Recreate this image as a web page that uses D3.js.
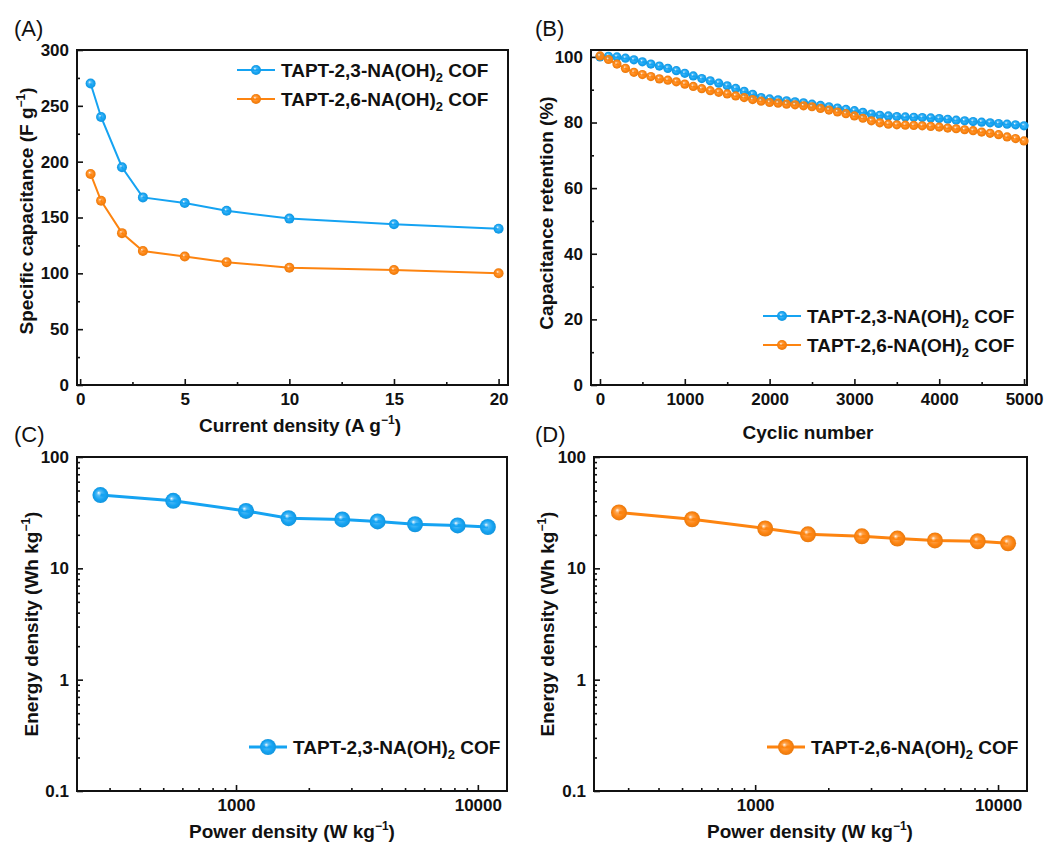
<!DOCTYPE html>
<html>
<head>
<meta charset="utf-8">
<script src="https://cdn.jsdelivr.net/npm/d3@7"></script>
<style>
  body { margin: 0; background: #ffffff; }
  svg text { font-family: "Liberation Sans", Arial, sans-serif; }
</style>
</head>
<body>
<main></main>
<script>
let svgWidth  = 1045;
let svgHeight = 842;

const blue   = '#15a3f2';
const orange = '#fd8410';

const seriesNames = ['TAPT-2,3-NA(OH)', 'TAPT-2,6-NA(OH)'];

// (A) rate performance
const currentDensity = [0.5, 1, 2, 3, 5, 7, 10, 15, 20];
const capA23 = [270, 240, 195, 168, 163, 156, 149, 144, 140];
const capA26 = [189, 165, 136, 120, 115, 110, 105, 103, 100];

// (B) cycling, one point every 100 cycles
const cycles = d3.range(0, 5001, 100);
const ret23 = [100, 100.2, 100, 99.6, 99.1, 98.5, 97.8, 97.2, 96.5, 95.8,
               95, 94.2, 93.4, 92.7, 92, 91.2, 90.4, 89.5, 88.6, 87.6,
               87.2, 86.9, 86.6, 86.3, 86, 85.6, 85.2, 84.8, 84.4, 84,
               83.6, 83.1, 82.6, 82.2, 82, 81.8, 81.7, 81.6, 81.5, 81.4,
               81.2, 81, 80.7, 80.5, 80.3, 80.1, 79.9, 79.7, 79.5, 79.3, 79];
const ret26 = [100.3, 99.2, 97.8, 96.5, 95.3, 94.6, 94, 93.3, 92.9, 92.4,
               91.7, 91, 90.3, 89.7, 89.2, 88.7, 88.1, 87.6, 87, 86.5,
               86.1, 85.9, 85.6, 85.4, 85.1, 84.8, 84.3, 83.8, 83.2, 82.7,
               82, 81.3, 80.5, 79.9, 79.5, 79.3, 79.2, 79.1, 79, 78.8,
               78.6, 78.3, 78.1, 77.8, 77.5, 77.1, 76.7, 76.3, 75.6, 75.1, 74.4];

// (C), (D) Ragone plots
const powerDensity = [275, 550, 1100, 1650, 2750, 3850, 5500, 8250, 11000];
const energy23 = [45.5, 40.4, 32.8, 28.2, 27.5, 26.4, 24.9, 24.3, 23.5];
const energy26 = [31.8, 27.6, 22.8, 20.2, 19.4, 18.5, 17.8, 17.5, 16.8];

const ticksA_x = [0, 5, 10, 15, 20];
const ticksA_y = [0, 50, 100, 150, 200, 250, 300];
const ticksB_x = [0, 1000, 2000, 3000, 4000, 5000];
const ticksB_y = [0, 20, 40, 60, 80, 100];
const ticksLog_x = [1000, 10000];
const ticksLog_y = [0.1, 1, 10, 100];

const titleSize = '19px';

var svg;

function makeGradient(defs, id, color) {
  var g = defs.append('radialGradient')
    .attr('id', id)
    .attr('cx', '50%').attr('cy', '50%').attr('r', '50%')
    .attr('fx', '38%').attr('fy', '35%');
  g.append('stop').attr('offset', '0%').attr('stop-color', '#ffffff');
  g.append('stop').attr('offset', '30%').attr('stop-color', color).attr('stop-opacity', 0.75);
  g.append('stop').attr('offset', '70%').attr('stop-color', color);
  g.append('stop').attr('offset', '100%').attr('stop-color', d3.color(color).darker(0.25));
};

function minorLog(scale) {
  var out = [];
  var d = scale.domain();
  for (let p = -3; p <= 6; ++p) {
    for (let k = 2; k <= 9; ++k) {
      var v = k * Math.pow(10, p);
      if (v > d[0] && v < d[1]) out.push(v);
    }
  }
  return out;
};

function drawAxes(g, x, y, opt) {
  var r = x.range(), b = y.range();

  var xa = d3.axisBottom(x).tickValues(opt.xTicks).tickSize(-6).tickPadding(8).tickFormat(opt.xFmt || d3.format('d'));
  var ya = d3.axisLeft(y).tickValues(opt.yTicks).tickSize(-6).tickPadding(8).tickFormat(opt.yFmt || d3.format('d'));
  var xm = d3.axisBottom(x).tickValues(opt.xMinor).tickSize(-3).tickFormat('');
  var ym = d3.axisLeft(y).tickValues(opt.yMinor).tickSize(-3).tickFormat('');

  [[xa, 'x'], [xm, 'x'], [ya, 'y'], [ym, 'y']].forEach(function(a) {
    var ax = g.append('g')
      .attr('transform', a[1] == 'x' ? 'translate(0,' + b[0] + ')' : 'translate(' + r[0] + ',0)')
      .call(a[0]);
    ax.select('.domain').remove();
    ax.selectAll('line').attr('stroke', '#111').attr('stroke-width', 1.6);
    ax.selectAll('text')
      .attr('font-size', '17px')
      .attr('font-weight', 'bold')
      .attr('fill', '#111');
  });

  g.append('rect')
    .attr('x', r[0]).attr('y', b[1])
    .attr('width', r[1] - r[0]).attr('height', b[0] - b[1])
    .attr('fill', 'none')
    .attr('stroke', '#111')
    .attr('stroke-width', 2);
};

function seriesText(sel, name, suffix) {
  sel.append('tspan').text(name);
  sel.append('tspan').attr('font-size', '13px').attr('dy', 5).text('2');
  sel.append('tspan').attr('dy', -5).text(' ' + suffix);
};

function titleWithUnit(sel, before, after) {
  sel.append('tspan').text(before);
  sel.append('tspan').attr('font-size', '12px').attr('dy', -8).text('\u22121');
  sel.append('tspan').attr('dy', 8).text(after);
};

function drawSeries(g, x, y, xs, ys, color, grad, r, lw) {
  var pts = xs.map(function(v, i) { return [v, ys[i]]; });
  g.append('path')
    .datum(pts)
    .attr('d', d3.line().x(function(d) { return x(d[0]); }).y(function(d) { return y(d[1]); }))
    .attr('fill', 'none')
    .attr('stroke', color)
    .attr('stroke-width', lw);
  g.selectAll(null)
    .data(pts)
    .enter()
      .append('circle')
      .attr('cx', function(d) { return x(d[0]); })
      .attr('cy', function(d) { return y(d[1]); })
      .attr('r', r)
      .attr('fill', 'url(#' + grad + ')');
};

function legendRow(g, lx, ly, color, grad, r, lw, label) {
  g.append('line')
    .attr('x1', lx).attr('x2', lx + 38)
    .attr('y1', ly).attr('y2', ly)
    .attr('stroke', color).attr('stroke-width', lw);
  g.append('circle')
    .attr('cx', lx + 19).attr('cy', ly).attr('r', r)
    .attr('fill', 'url(#' + grad + ')');
  g.append('text')
    .attr('x', lx + 44).attr('y', ly + 7)
    .attr('font-size', titleSize)
    .attr('font-weight', 'bold')
    .attr('fill', '#111')
    .call(seriesText, label, 'COF');
};

function panelLabel(txt, px, py) {
  svg.append('text')
    .attr('x', px).attr('y', py)
    .attr('font-size', '22px')
    .attr('fill', '#111')
    .text(txt);
};

function yTitle(cx, cy, fn) {
  svg.append('text')
    .attr('transform', 'translate(' + cx + ',' + cy + ') rotate(-90)')
    .attr('text-anchor', 'middle')
    .attr('font-size', titleSize)
    .attr('font-weight', 'bold')
    .attr('fill', '#111')
    .call(fn);
};

function xTitle(cx, cy, fn) {
  svg.append('text')
    .attr('x', cx).attr('y', cy)
    .attr('text-anchor', 'middle')
    .attr('font-size', titleSize)
    .attr('font-weight', 'bold')
    .attr('fill', '#111')
    .call(fn);
};

document.addEventListener("DOMContentLoaded", function() {
  svg = d3
    .select("body main")
    .append('svg')
    .attr('width', svgWidth)
    .attr('height', svgHeight)
  ;

  var defs = svg.append('defs');
  makeGradient(defs, 'gBlue', blue);
  makeGradient(defs, 'gOrange', orange);

  // ---- (A)
  var xA = d3.scaleLinear().domain([-0.15, 20.45]).range([77, 508]);
  var yA = d3.scaleLinear().domain([0, 300]).range([385, 50]);
  var gA = svg.append('g');
  drawAxes(gA, xA, yA, {
    xTicks: ticksA_x, yTicks: ticksA_y,
    xMinor: [2.5, 7.5, 12.5, 17.5], yMinor: [25, 75, 125, 175, 225, 275]
  });
  drawSeries(gA, xA, yA, currentDensity, capA23, blue, 'gBlue', 5, 2);
  drawSeries(gA, xA, yA, currentDensity, capA26, orange, 'gOrange', 5, 2);
  legendRow(gA, 237, 70, blue, 'gBlue', 5, 2, seriesNames[0]);
  legendRow(gA, 237, 99, orange, 'gOrange', 5, 2, seriesNames[1]);
  panelLabel('(A)', 14, 36);
  yTitle(33, 211, function(s) { titleWithUnit(s, 'Specific capacitance (F g', ')'); });
  xTitle(300, 432, function(s) { titleWithUnit(s, 'Current density (A g', ')'); });

  // ---- (B)
  var xB = d3.scaleLinear().domain([-106, 5035]).range([591, 1027]);
  var yB = d3.scaleLinear().domain([0, 102.1]).range([385, 50]);
  var gB = svg.append('g');
  drawAxes(gB, xB, yB, {
    xTicks: ticksB_x, yTicks: ticksB_y,
    xMinor: [500, 1500, 2500, 3500, 4500], yMinor: [10, 30, 50, 70, 90]
  });
  drawSeries(gB, xB, yB, cycles, ret23, blue, 'gBlue', 4.6, 2);
  drawSeries(gB, xB, yB, cycles, ret26, orange, 'gOrange', 4.6, 2);
  legendRow(gB, 763, 316, blue, 'gBlue', 5, 2, seriesNames[0]);
  legendRow(gB, 763, 345, orange, 'gOrange', 5, 2, seriesNames[1]);
  panelLabel('(B)', 535, 36);
  yTitle(553, 213, function(s) { s.text('Capacitance retention (%)'); });
  xTitle(808, 439, function(s) { s.text('Cyclic number'); });

  // ---- (C)
  var xC = d3.scaleLog().domain([220, 13200]).range([77, 507]);
  var yC = d3.scaleLog().domain([0.1, 100]).range([791, 457]);
  var gC = svg.append('g');
  drawAxes(gC, xC, yC, {
    xTicks: ticksLog_x, yTicks: ticksLog_y,
    xMinor: minorLog(xC), yMinor: minorLog(yC),
    xFmt: d3.format('d'), yFmt: function(v) { return String(v); }
  });
  drawSeries(gC, xC, yC, powerDensity, energy23, blue, 'gBlue', 8, 3);
  legendRow(gC, 249, 747, blue, 'gBlue', 8, 3, seriesNames[0]);
  panelLabel('(C)', 14, 442);
  yTitle(38, 624, function(s) { titleWithUnit(s, 'Energy density (Wh kg', ')'); });
  xTitle(292, 838, function(s) { titleWithUnit(s, 'Power density (W kg', ')'); });

  // ---- (D)
  var xD = d3.scaleLog().domain([217, 13160]).range([594, 1027]);
  var yD = d3.scaleLog().domain([0.1, 100]).range([791, 457]);
  var gD = svg.append('g');
  drawAxes(gD, xD, yD, {
    xTicks: ticksLog_x, yTicks: ticksLog_y,
    xMinor: minorLog(xD), yMinor: minorLog(yD),
    xFmt: d3.format('d'), yFmt: function(v) { return String(v); }
  });
  drawSeries(gD, xD, yD, powerDensity, energy26, orange, 'gOrange', 8, 3);
  legendRow(gD, 767, 747, orange, 'gOrange', 8, 3, seriesNames[1]);
  panelLabel('(D)', 535, 442);
  yTitle(554, 624, function(s) { titleWithUnit(s, 'Energy density (Wh kg', ')'); });
  xTitle(810, 838, function(s) { titleWithUnit(s, 'Power density (W kg', ')'); });
});
</script>
</body>
</html>
